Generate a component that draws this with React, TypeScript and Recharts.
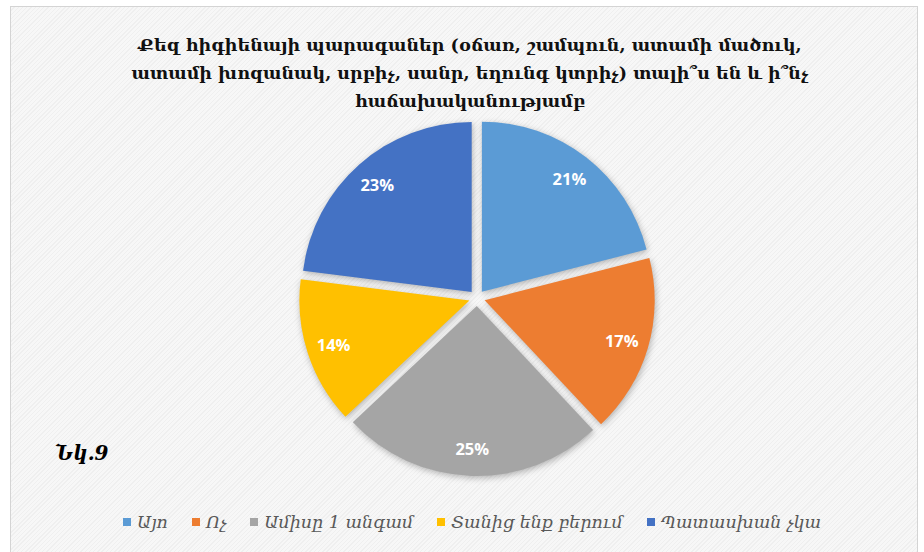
import { PieChart, Pie, Cell, Sector, Legend } from 'recharts';

const categories = ['Այո', 'Ոչ', 'Ամիսը 1 անգամ', 'Տանից ենք բերում', 'Պատասխան չկա'];
const shares = [21, 17, 25, 14, 23];
const colors = ['#5B9BD5', '#ED7D31', '#A5A5A5', '#FFC000', '#4472C4'];
const titleLines = [
  'Քեզ հիգիենայի պարագաներ (օճառ, շամպուն, ատամի մածուկ,',
  'ատամի խոզանակ, սրբիչ, սանր, եղունգ կտրիչ) տալի՞ս են և ի՞նչ',
  'հաճախականությամբ',
];
const figLabel = 'Նկ.9';

const data = categories.map((name, i) => ({ name, value: shares[i] }));

const RAD = Math.PI / 180;
const EXPLODE = 8;

// each slice pushed out along its middle angle
function ExplodedSlice(props: any) {
  const { cx, cy, midAngle, innerRadius, outerRadius, startAngle, endAngle, fill } = props;
  const dx = EXPLODE * Math.cos(-midAngle * RAD);
  const dy = EXPLODE * Math.sin(-midAngle * RAD);
  return (
    <Sector
      cx={cx + dx}
      cy={cy + dy}
      innerRadius={innerRadius}
      outerRadius={outerRadius}
      startAngle={startAngle}
      endAngle={endAngle}
      fill={fill}
      style={{ filter: 'drop-shadow(1px 2px 3px rgba(0,0,0,0.28))' }}
    />
  );
}

function renderLabel(props: any) {
  const { cx, cy, midAngle, outerRadius, value } = props;
  const r = outerRadius * 0.84 + EXPLODE;
  const x = cx + r * Math.cos(-midAngle * RAD);
  const y = cy + r * Math.sin(-midAngle * RAD);
  return (
    <text
      x={x}
      y={y}
      fill="#ffffff"
      textAnchor="middle"
      dominantBaseline="central"
      style={{ fontFamily: '"Open Sans", sans-serif', fontWeight: 700, fontSize: 16.5 }}
    >
      {`${value}%`}
    </text>
  );
}

// legend kept in the data order (recharts sorts it otherwise)
function LegendRow() {
  return (
    <div style={{ display: 'flex', justifyContent: 'center', alignItems: 'center' }}>
      {categories.map((c, i) => (
        <div key={c} style={{ display: 'flex', alignItems: 'center', marginLeft: i ? 24 : 0 }}>
          <span style={{ width: 8, height: 8, background: colors[i], marginRight: 6, display: 'inline-block' }} />
          <span
            style={{
              fontFamily: '"DejaVu Serif", serif',
              fontStyle: 'italic',
              fontSize: 17.5,
              color: '#595959',
              lineHeight: '20px',
            }}
          >
            {c}
          </span>
        </div>
      ))}
    </div>
  );
}

export default function App() {
  return (
    <div style={{ position: 'absolute', left: 0, top: 0, width: 924, height: 552, background: '#fff', overflow: 'hidden' }}>
      <div
        style={{
          position: 'absolute',
          left: 10,
          top: 6,
          width: 906,
          height: 560,
          border: '1px solid #d4d4d4',
          background:
            'repeating-linear-gradient(135deg, #f7f7f7 0px, #f7f7f7 2px, #efefef 2px, #efefef 3px)',
        }}
      />
      <div
        style={{
          position: 'absolute',
          left: 0,
          top: 31,
          width: 940,
          textAlign: 'center',
          fontFamily: '"DejaVu Serif", serif',
          fontWeight: 700,
          fontSize: 17.5,
          lineHeight: '28px',
          color: '#111',
        }}
      >
        {titleLines.map((t) => (
          <div key={t}>{t}</div>
        ))}
      </div>
      <div
        style={{
          position: 'absolute',
          left: 55,
          top: 441,
          fontFamily: '"DejaVu Serif", serif',
          fontStyle: 'italic',
          fontWeight: 700,
          fontSize: 20,
          color: '#000',
        }}
      >
        {figLabel}
      </div>
      <div style={{ position: 'absolute', left: 0, top: 0 }}>
        <PieChart width={924} height={552} margin={{ top: 0, right: 0, bottom: 0, left: 0 }}>
          <Pie
            data={data}
            dataKey="value"
            nameKey="name"
            cx={477}
            cy={298}
            outerRadius={170}
            startAngle={90}
            endAngle={-270}
            stroke="none"
            shape={ExplodedSlice}
            label={renderLabel}
            labelLine={false}
            isAnimationActive={false}
          >
            {data.map((d, i) => (
              <Cell key={d.name} fill={colors[i]} />
            ))}
          </Pie>
          <Legend
            verticalAlign="bottom"
            align="center"
            wrapperStyle={{ bottom: 20, left: 0, width: 944 }}
            content={LegendRow}
          />
        </PieChart>
      </div>
    </div>
  );
}
